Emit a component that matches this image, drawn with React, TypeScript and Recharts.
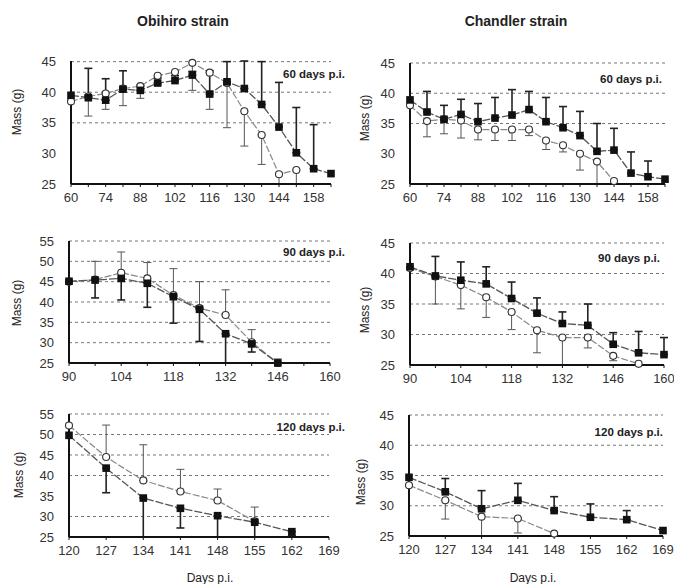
import React from "react";
import {
  LineChart,
  Line,
  XAxis,
  YAxis,
  ErrorBar,
  ReferenceLine,
} from "recharts";

// x ticks (days p.i.)
const days60 = [60, 67, 74, 81, 88, 95, 102, 109, 116, 123, 130, 137, 144, 151, 158, 165];
const labels60 = [60, 74, 88, 102, 116, 130, 144, 158];
const days90 = [90, 97, 104, 111, 118, 125, 132, 139, 146, 153, 160];
const labels90 = [90, 104, 118, 132, 146, 160];
const days120 = [120, 127, 134, 141, 148, 155, 162, 169];
const labels120 = [120, 127, 134, 141, 148, 155, 162, 169];

const ticks45 = [25, 30, 35, 40, 45];
const ticks55 = [25, 30, 35, 40, 45, 50, 55];

// Obihiro, 60 days p.i.
const obi60Filled = [39.5, 39.1, 38.7, 40.5, 40.3, 41.5, 41.9, 42.8, 39.7, 41.7, 40.6, 38.0, 34.3, 30.1, 27.5, 26.7];
const obi60FilledSd = [0, 4.8, 3.5, 3.0, 0.8, 0.8, 0.8, 0.6, 3.8, 3.3, 4.5, 7.0, 7.3, 7.4, 7.2, 0];
const obi60Open = [38.5, 39.3, 39.8, 40.6, 41.0, 42.7, 43.3, 44.8, 43.2, 41.5, 36.9, 33.0, 26.6, 27.3, null, null];
const obi60OpenSd = [0, 3.2, 2.6, 2.8, 2.0, 1.5, 1.0, 4.5, 6.0, 7.3, 5.7, 4.8, 1.6, 2.3, null, null];

// Chandler, 60 days p.i.
const cha60Filled = [38.9, 36.9, 35.7, 36.5, 35.3, 35.9, 36.4, 37.3, 35.3, 34.3, 33.0, 30.4, 30.6, 26.8, 26.2, 25.8];
const cha60FilledSd = [0, 3.4, 2.3, 2.5, 3.0, 3.4, 4.2, 3.0, 4.0, 3.5, 4.0, 4.6, 3.6, 3.5, 2.6, 0];
const cha60Open = [38.0, 35.4, 35.7, 35.5, 34.0, 34.0, 34.0, 34.0, 32.2, 31.4, 30.0, 28.7, 25.5, null, null, null];
const cha60OpenSd = [0, 2.6, 2.4, 2.9, 1.7, 1.8, 1.8, 1.0, 1.5, 1.1, 2.7, 3.7, 0, null, null, null];

// Obihiro, 90 days p.i.
const obi90Filled = [45.1, 45.4, 45.8, 44.6, 41.3, 38.2, 32.2, 29.7, 25.0, null, null];
const obi90FilledSd = [0, 4.4, 5.3, 5.9, 6.5, 7.9, 7.2, 2.0, 0, null, null];
const obi90Open = [45.0, 45.5, 47.2, 45.8, 41.7, 38.5, 36.8, 30.1, 25.0, null, null];
const obi90OpenSd = [0, 4.5, 5.1, 3.9, 6.5, 6.5, 6.2, 3.1, 1.0, null, null];

// Chandler, 90 days p.i.
const cha90Filled = [41.1, 39.6, 38.9, 38.3, 35.9, 33.5, 31.8, 31.5, 28.4, 27.0, 26.7];
const cha90FilledSd = [0, 3.2, 3.0, 2.8, 2.7, 2.5, 1.9, 3.5, 1.9, 3.5, 2.8];
const cha90Open = [40.9, 39.5, 38.1, 36.1, 33.7, 30.7, 29.5, 29.5, 26.5, 25.2, null];
const cha90OpenSd = [0, 4.5, 3.9, 3.3, 2.9, 3.7, 4.5, 1.7, 0.8, 0, null];

// Obihiro, 120 days p.i.
const obi120Filled = [49.8, 41.8, 34.5, 32.0, 30.2, 28.6, 26.3, null];
const obi120FilledSd = [0, 6.0, 9.5, 4.8, 5.2, 3.6, 1.0, null];
const obi120Open = [52.2, 44.5, 38.8, 36.1, 33.9, 28.8, null, null];
const obi120OpenSd = [0, 7.8, 8.7, 5.4, 2.8, 3.5, null, null];

// Chandler, 120 days p.i.
const cha120Filled = [34.7, 32.3, 29.5, 30.9, 29.2, 28.1, 27.7, 25.9];
const cha120FilledSd = [0, 2.2, 3.0, 2.8, 2.3, 2.2, 1.5, 0];
const cha120Open = [33.4, 30.9, 28.2, 27.9, 25.4, null, null, null];
const cha120OpenSd = [0, 3.1, 3.2, 2.4, 0, null, null, null];

const FONT = "'Liberation Sans', Arial, sans-serif";

function errPair(sd: number | null, dir: string) {
  if (sd == null || sd === 0) return null;
  return dir === "up" ? [0, sd] : [sd, 0];
}

function buildRows(days: number[], filled: any[], filledSd: any[], open: any[], openSd: any[], fDir: string, oDir: string) {
  return days.map((d, i) => ({
    day: d,
    f: filled[i] ?? null,
    fe: filled[i] == null ? null : errPair(filledSd[i], fDir),
    o: open[i] ?? null,
    oe: open[i] == null ? null : errPair(openSd[i], oDir),
  }));
}

const Square = (props: any) => {
  const { cx, cy, value, index } = props;
  if (cx == null || cy == null || value == null) return <g key={"s" + index} />;
  return <rect key={"s" + index} x={cx - 3.8} y={cy - 3.8} width={7.6} height={7.6} fill="#111" />;
};

const Ring = (props: any) => {
  const { cx, cy, value, index } = props;
  if (cx == null || cy == null || value == null) return <g key={"c" + index} />;
  return <circle key={"c" + index} cx={cx} cy={cy} r={3.5} fill="#fff" stroke="#333" strokeWidth={1.1} />;
};

function Panel(p: any) {
  const plotW = p.right - p.left;
  const plotH = p.bottom - p.top;
  const yAxisW = 40;
  const labelSet = new Set(p.labels);
  return (
    <div style={{ position: "absolute", left: p.left - yAxisW, top: p.top - 10 }}>
      <LineChart
        width={plotW + yAxisW + 12}
        height={plotH + 10 + 30}
        data={p.rows}
        margin={{ top: 10, right: 12, bottom: 0, left: 0 }}
      >
        {p.grid.map((g: number) => (
          <ReferenceLine key={g} y={g} stroke="#777" strokeDasharray="3 3" strokeWidth={1} />
        ))}
        <XAxis
          dataKey="day"
          type="number"
          domain={p.xDomain}
          ticks={p.xTicks}
          interval={0}
          height={30}
          tickSize={3}
          tickMargin={6}
          axisLine={{ stroke: "#111", strokeWidth: 2 }}
          tickLine={{ stroke: "#111" }}
          tick={{ fill: "#333", fontSize: 13, fontFamily: FONT }}
          tickFormatter={(v: number) => (labelSet.has(v) ? String(v) : "")}
        />
        <YAxis
          type="number"
          domain={p.yDomain}
          ticks={p.yTicks}
          interval={0}
          width={yAxisW}
          tickLine={false}
          tickMargin={9}
          axisLine={{ stroke: "#111", strokeWidth: 2 }}
          tick={{ fill: "#333", fontSize: 13, fontFamily: FONT }}
        />
        <Line
          dataKey="o"
          stroke="#888"
          strokeWidth={1.2}
          strokeDasharray="7 2"
          dot={Ring}
          activeDot={false}
          isAnimationActive={false}
        >
          <ErrorBar dataKey="oe" direction="y" width={4} stroke="#555" strokeWidth={1} />
        </Line>
        <Line
          dataKey="f"
          stroke="#555"
          strokeWidth={1.3}
          strokeDasharray="8 2"
          dot={Square}
          activeDot={false}
          isAnimationActive={false}
        >
          <ErrorBar dataKey="fe" direction="y" width={4} stroke="#222" strokeWidth={1.6} />
        </Line>
      </LineChart>
    </div>
  );
}

function Txt({ x, y, children, bold, size, align, rotate, color }: any) {
  const style: any = {
    position: "absolute",
    top: y,
    fontFamily: FONT,
    fontSize: size || 12,
    fontWeight: bold ? "bold" : "normal",
    color: color || "#222",
    whiteSpace: "nowrap",
    lineHeight: 1,
  };
  if (rotate) {
    style.left = x;
    style.transform = "translate(-50%, -50%) rotate(-90deg)";
  } else if (align === "right") {
    style.left = x - 200;
    style.width = 200;
    style.textAlign = "right";
    style.transform = "translateY(-50%)";
  } else {
    style.left = x;
    style.transform = "translate(-50%, -50%)";
  }
  return <div style={style}>{children}</div>;
}

export default function App() {
  const panels = [
    {
      key: "o60", left: 71, right: 331, top: 61, bottom: 184, xDomain: [60, 165], xTicks: days60, labels: labels60,
      yDomain: [25, 45], yTicks: ticks45, grid: [35, 40, 45],
      rows: buildRows(days60, obi60Filled, obi60FilledSd, obi60Open, obi60OpenSd, "up", "down"),
    },
    {
      key: "c60", left: 410, right: 665, top: 63, bottom: 184, xDomain: [60, 165], xTicks: days60, labels: labels60,
      yDomain: [25, 45], yTicks: ticks45, grid: [35, 40, 45],
      rows: buildRows(days60, cha60Filled, cha60FilledSd, cha60Open, cha60OpenSd, "up", "down"),
    },
    {
      key: "o90", left: 69, right: 330, top: 241, bottom: 363, xDomain: [90, 160], xTicks: days90, labels: labels90,
      yDomain: [25, 55], yTicks: ticks55, grid: [30, 35, 40, 45, 50, 55],
      rows: buildRows(days90, obi90Filled, obi90FilledSd, obi90Open, obi90OpenSd, "down", "up"),
    },
    {
      key: "c90", left: 410, right: 664, top: 243, bottom: 365, xDomain: [90, 160], xTicks: days90, labels: labels90,
      yDomain: [25, 45], yTicks: ticks45, grid: [30, 35, 40, 45],
      rows: buildRows(days90, cha90Filled, cha90FilledSd, cha90Open, cha90OpenSd, "up", "down"),
    },
    {
      key: "o120", left: 69, right: 329, top: 414, bottom: 537, xDomain: [120, 169], xTicks: days120, labels: labels120,
      yDomain: [25, 55], yTicks: ticks55, grid: [30, 40, 45, 50, 55],
      rows: buildRows(days120, obi120Filled, obi120FilledSd, obi120Open, obi120OpenSd, "down", "up"),
    },
    {
      key: "c120", left: 409, right: 663, top: 415, bottom: 536, xDomain: [120, 169], xTicks: days120, labels: labels120,
      yDomain: [25, 45], yTicks: ticks45, grid: [30, 35, 40, 45],
      rows: buildRows(days120, cha120Filled, cha120FilledSd, cha120Open, cha120OpenSd, "up", "down"),
    },
  ];

  return (
    <div style={{ position: "absolute", left: 0, top: 0, width: 674, height: 584, background: "#fff", overflow: "hidden" }}>
      {panels.map((p) => (
        <Panel {...p} />
      ))}
      <Txt x={183} y={21} bold size={14}>Obihiro strain</Txt>
      <Txt x={516} y={21} bold size={14}>Chandler strain</Txt>

      <Txt x={17} y={112} rotate size={12}>Mass (g)</Txt>
      <Txt x={365} y={118} rotate size={12}>Mass (g)</Txt>
      <Txt x={17} y={303} rotate size={12}>Mass (g)</Txt>
      <Txt x={365} y={310} rotate size={12}>Mass (g)</Txt>
      <Txt x={19} y={475} rotate size={12}>Mass (g)</Txt>
      <Txt x={361} y={482} rotate size={12}>Mass (g)</Txt>

      <Txt x={345} y={75} bold size={11.5} align="right">60 days p.i.</Txt>
      <Txt x={662} y={80} bold size={11.5} align="right">60 days p.i.</Txt>
      <Txt x={345} y={253} bold size={11.5} align="right">90 days p.i.</Txt>
      <Txt x={660} y={259} bold size={11.5} align="right">90 days p.i.</Txt>
      <Txt x={345} y={428} bold size={11.5} align="right">120 days p.i.</Txt>
      <Txt x={663} y={433} bold size={11.5} align="right">120 days p.i.</Txt>

      <Txt x={210} y={578} size={12}>Days p.i.</Txt>
      <Txt x={533} y={578} size={12}>Days p.i.</Txt>
    </div>
  );
}
